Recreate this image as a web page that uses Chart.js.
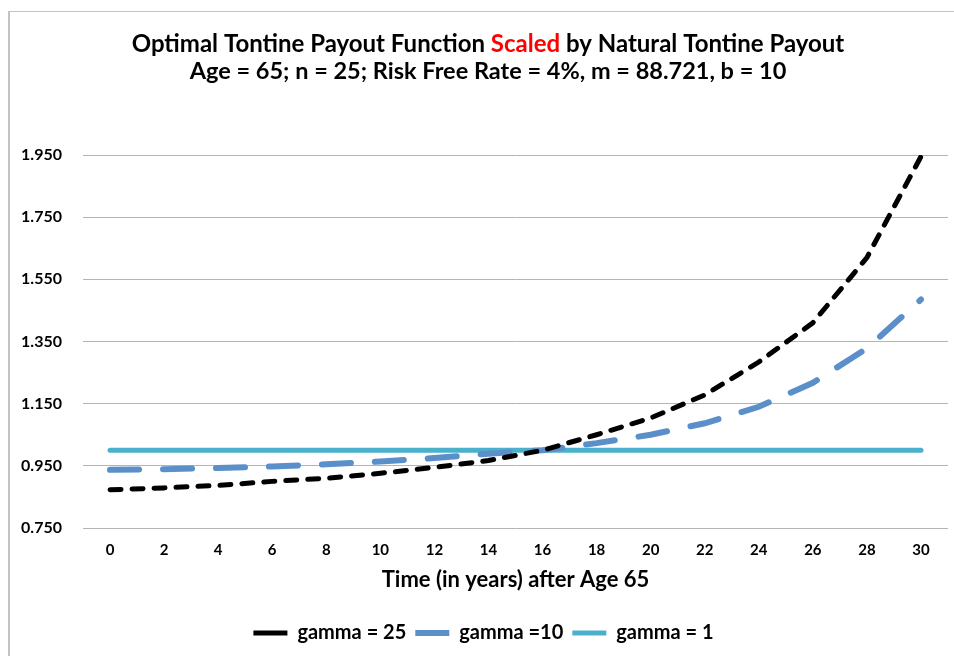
<!DOCTYPE html>
<html>
<head>
<meta charset="utf-8">
<title>Optimal Tontine Payout Function</title>
<script src="https://cdn.jsdelivr.net/npm/chart.js@4.4.1/dist/chart.umd.min.js"></script>
<style>
  html, body { margin: 0; padding: 0; background: #fff; }
  #wrap { position: relative; width: 954px; height: 656px; overflow: hidden; }
  #frame {
    position: absolute; left: 8px; top: 11px; right: -10px; bottom: -10px;
    border-left: 2px solid #c3c3c3; border-top: 1px solid #c3c3c3;
  }
  #chart { position: absolute; left: 0; top: 0; }
</style>
</head>
<body>
<div id="wrap">
  <div id="frame"></div>
  <canvas id="chart" width="954" height="656"></canvas>
</div>
<script>
// Годы после 65 лет (категории оси X)
const years = ['0', '2', '4', '6', '8', '10', '12', '14', '16', '18', '20', '22', '24', '26', '28', '30'];

// Значения
const gamma25 = [0.873, 0.879, 0.887, 0.900, 0.910, 0.926, 0.945, 0.967, 1.000, 1.050, 1.104, 1.178, 1.284, 1.410, 1.620, 1.945];
const gamma10 = [0.937, 0.939, 0.943, 0.948, 0.955, 0.964, 0.975, 0.989, 1.000, 1.023, 1.050, 1.087, 1.140, 1.217, 1.328, 1.485];
const gamma1  = [1.000, 1.000, 1.000, 1.000, 1.000, 1.000, 1.000, 1.000, 1.000, 1.000, 1.000, 1.000, 1.000, 1.000, 1.000, 1.000];

const seriesNames = ['gamma = 25', 'gamma =10', 'gamma = 1'];

// Заголовок: слово "Scaled" красным
const titleParts = [
  { text: 'Optimal Tontine Payout Function ', color: '#000000' },
  { text: 'Scaled', color: '#ff0000' },
  { text: ' by Natural Tontine Payout', color: '#000000' }
];
const subtitle = 'Age = 65; n = 25; Risk Free Rate = 4%, m = 88.721, b = 10';
const xTitle = 'Time (in years) after Age 65';

const FONT = 'Lato, "Open Sans", sans-serif';

// Рисуем двухстрочный заголовок сами (Chart.js не умеет разные цвета в одной строке)
const mixedTitle = {
  id: 'mixedTitle',
  afterDraw(chart) {
    const ctx = chart.ctx;
    const cx = 488;
    ctx.save();
    ctx.font = 'bold 24px ' + FONT;
    ctx.textBaseline = 'middle';
    ctx.textAlign = 'left';
    const total = titleParts.reduce((w, p) => w + ctx.measureText(p.text).width, 0);
    let x = cx - total / 2;
    titleParts.forEach(p => {
      ctx.fillStyle = p.color;
      ctx.fillText(p.text, x, 44);
      x += ctx.measureText(p.text).width;
    });
    ctx.font = 'bold 23.5px ' + FONT;
    ctx.textAlign = 'center';
    ctx.fillStyle = '#000000';
    ctx.fillText(subtitle, cx, 71);
    ctx.restore();
  }
};

const chart = new Chart(document.getElementById('chart'), {
  type: 'line',
  data: {
    labels: years,
    datasets: [
      {
        label: seriesNames[0],
        data: gamma25,
        borderColor: '#000000',
        backgroundColor: '#000000',
        borderWidth: 5,
        borderDash: [11, 11],
        borderCapStyle: 'round',
        pointRadius: 0
      },
      {
        label: seriesNames[1],
        data: gamma10,
        borderColor: '#5b8fca',
        backgroundColor: '#5b8fca',
        borderWidth: 6,
        borderDash: [29, 24],
        borderCapStyle: 'round',
        pointRadius: 0
      },
      {
        label: seriesNames[2],
        data: gamma1,
        borderColor: '#4bb0cc',
        backgroundColor: '#4bb0cc',
        borderWidth: 5,
        borderCapStyle: 'round',
        pointRadius: 0
      }
    ]
  },
  options: {
    responsive: false,
    animation: false,
    layout: {
      padding: { left: 19, right: 6, top: 155, bottom: 3 }
    },
    plugins: {
      title: { display: false },
      tooltip: { enabled: false },
      legend: {
        position: 'bottom',
        labels: {
          color: '#000000',
          font: { family: FONT, size: 20, weight: 'bold' },
          usePointStyle: true,
          pointStyle: 'line',
          pointStyleWidth: 34,
          padding: 9
        }
      }
    },
    scales: {
      x: {
        offset: true,
        grid: { display: false, drawTicks: false },
        border: { display: false },
        ticks: {
          color: '#000000',
          padding: 13,
          maxRotation: 0,
          font: { family: FONT, size: 15, weight: 'bold' }
        },
        title: {
          display: true,
          text: xTitle,
          color: '#000000',
          font: { family: FONT, size: 22, weight: 'bold' },
          padding: { top: 4, bottom: 21 }
        },
        afterFit(scale) { scale.height = 86; }
      },
      y: {
        min: 0.75,
        max: 1.95,
        grid: { color: '#b4b4b4', lineWidth: 1, drawTicks: false },
        border: { display: false },
        ticks: {
          stepSize: 0.2,
          color: '#000000',
          padding: 21,
          font: { family: FONT, size: 16, weight: 'bold' },
          callback: v => v.toFixed(3)
        },
        afterFit(scale) { scale.width = 64; }
      }
    }
  },
  plugins: [mixedTitle]
});
</script>
</body>
</html>
